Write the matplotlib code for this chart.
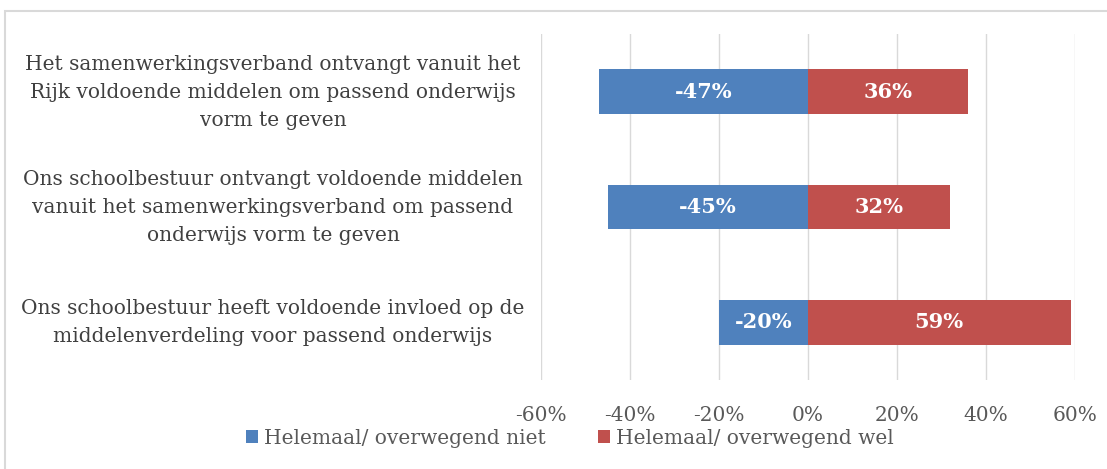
import matplotlib.pyplot as plt
from matplotlib.patches import Rectangle

categories = [
    'Het samenwerkingsverband ontvangt vanuit het\nRijk voldoende middelen om passend onderwijs\nvorm te geven',
    'Ons schoolbestuur ontvangt voldoende middelen\nvanuit het samenwerkingsverband om passend\nonderwijs vorm te geven',
    'Ons schoolbestuur heeft voldoende invloed op de\nmiddelenverdeling voor passend onderwijs',
]
niet = [-47, -45, -20]
wel = [36, 32, 59]
series_names = ['Helemaal/ overwegend niet', 'Helemaal/ overwegend wel']
ticks = [-60, -40, -20, 0, 20, 40, 60]

plt.rcParams['font.family'] = ['DejaVu Serif']

fig = plt.figure(figsize=(11.07, 4.69), dpi=100)
fig.patches.append(Rectangle((5 / 1107, -0.1), 1.2, (469 - 11) / 469 + 0.1,
                             transform=fig.transFigure, fill=False,
                             edgecolor='#d9d9d9', linewidth=1.5))

ax = fig.add_axes([541 / 1107, 1 - 380 / 469, 534 / 1107, 346 / 469])
y = list(range(len(categories)))
b1 = ax.barh(y, niet, height=0.39, color='#4F81BD', label=series_names[0], zorder=3)
b2 = ax.barh(y, wel, height=0.39, color='#C0504D', label=series_names[1], zorder=3)

for bars, vals in [(b1, niet), (b2, wel)]:
    for bar, v in zip(bars, vals):
        ax.text(bar.get_x() + bar.get_width() / 2, bar.get_y() + bar.get_height() / 2,
                f'{v}%', ha='center', va='center', color='white',
                fontsize=15, fontweight='bold', zorder=4)

ax.set_xlim(-60, 60)
ax.set_ylim(2.5, -0.5)
ax.set_xticks(ticks)
ax.set_xticklabels([f'{t}%' for t in ticks], fontsize=14.5, color='#595959')
ax.tick_params(axis='x', length=0, pad=19)
ax.set_yticks([])
ax.grid(axis='x', color='#d9d9d9', linewidth=1, zorder=0)
for s in ax.spines.values():
    s.set_visible(False)

for i, cat in enumerate(categories):
    yy = 1 - (92 + 115 * i) / 469
    fig.text(273 / 1107, yy, cat, ha='center', va='center', multialignment='center',
             fontsize=14.5, color='#404040', linespacing=1.6)

fig.legend(handles=[b1, b2], labels=series_names, loc='center',
           bbox_to_anchor=(570 / 1107, 1 - 438 / 469), ncol=2, frameon=False,
           fontsize=14.5, labelcolor='#595959', handlelength=0.6, handleheight=0.6,
           handletextpad=0.3, columnspacing=2.6)

fig.savefig('out.png', dpi=100)
